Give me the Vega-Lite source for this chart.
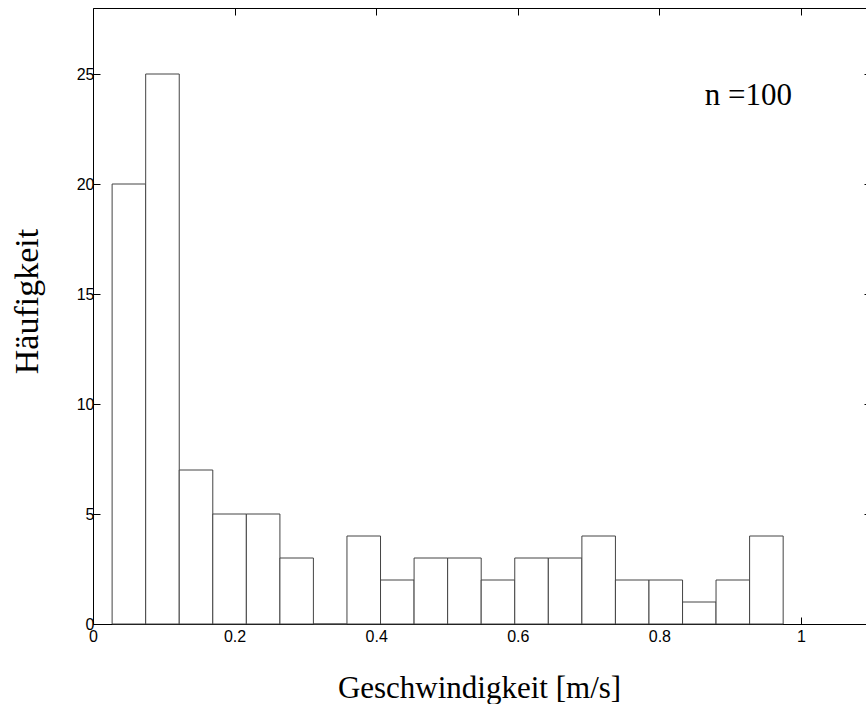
{
  "$schema": "https://vega.github.io/schema/vega-lite/v6.json",
  "width": 773,
  "height": 616,
  "autosize": {"type": "none"},
  "padding": {"left": 93, "top": 8, "right": 0, "bottom": 80},
  "background": "white",
  "datasets": {
    "bins": [
      {"x0": 0.0270, "x1": 0.0744, "count": 20},
      {"x0": 0.0744, "x1": 0.1218, "count": 25},
      {"x0": 0.1218, "x1": 0.1692, "count": 7},
      {"x0": 0.1692, "x1": 0.2166, "count": 5},
      {"x0": 0.2166, "x1": 0.2640, "count": 5},
      {"x0": 0.2640, "x1": 0.3113, "count": 3},
      {"x0": 0.3113, "x1": 0.3587, "count": 0},
      {"x0": 0.3587, "x1": 0.4061, "count": 4},
      {"x0": 0.4061, "x1": 0.4535, "count": 2},
      {"x0": 0.4535, "x1": 0.5009, "count": 3},
      {"x0": 0.5009, "x1": 0.5483, "count": 3},
      {"x0": 0.5483, "x1": 0.5957, "count": 2},
      {"x0": 0.5957, "x1": 0.6431, "count": 3},
      {"x0": 0.6431, "x1": 0.6905, "count": 3},
      {"x0": 0.6905, "x1": 0.7379, "count": 4},
      {"x0": 0.7379, "x1": 0.7853, "count": 2},
      {"x0": 0.7853, "x1": 0.8327, "count": 2},
      {"x0": 0.8327, "x1": 0.8800, "count": 1},
      {"x0": 0.8800, "x1": 0.9274, "count": 2},
      {"x0": 0.9274, "x1": 0.9748, "count": 4}
    ],
    "note": [
      {"label": "n =100", "x": 0.864, "y": 23.6}
    ]
  },
  "config": {
    "view": {"stroke": null},
    "axis": {
      "grid": false,
      "domainColor": "black",
      "domainWidth": 1,
      "tickColor": "black",
      "tickWidth": 1,
      "labelColor": "black",
      "labelFont": "Liberation Sans",
      "labelFontSize": 16,
      "titleColor": "black",
      "titleFont": "Liberation Serif",
      "titleFontWeight": "normal"
    }
  },
  "layer": [
    {
      "data": {"name": "bins"},
      "mark": {"type": "rect", "fill": "white", "stroke": "#444444", "strokeWidth": 1},
      "encoding": {
        "x": {
          "field": "x0",
          "type": "quantitative",
          "scale": {"domain": [0, 1.0918], "nice": false, "zero": false},
          "axis": {
            "orient": "bottom",
            "values": [0, 0.2, 0.4, 0.6, 0.8, 1],
            "format": "~g",
            "tickSize": -7,
            "labelFontSize": 16,
            "labelPadding": 11,
            "labelFlush": false,
            "title": "Geschwindigkeit [m/s]",
            "titleFontSize": 31,
            "titleX": 386,
            "titleY": 73,
            "titleBaseline": "alphabetic",
            "titleAnchor": "middle",
            "titleAlign": "center"
          }
        },
        "x2": {"field": "x1"},
        "y": {
          "field": "count",
          "type": "quantitative",
          "scale": {"domain": [0, 28], "nice": false},
          "axis": {
            "orient": "left",
            "values": [0, 5, 10, 15, 20, 25],
            "tickSize": -7,
            "labelFontSize": 16,
            "labelPadding": 6,
            "labelFlush": false,
            "title": "Häufigkeit",
            "titleFontSize": 34,
            "titleAngle": -90,
            "titleX": -56,
            "titleY": 293,
            "titleBaseline": "alphabetic",
            "titleAlign": "center"
          }
        },
        "y2": {"datum": 0}
      }
    },
    {
      "data": {"name": "note"},
      "mark": {"type": "text", "font": "Liberation Serif", "fontSize": 31, "align": "left", "baseline": "alphabetic", "color": "black"},
      "encoding": {
        "x": {
          "field": "x",
          "type": "quantitative",
          "axis": {
            "orient": "top",
            "values": [0, 0.2, 0.4, 0.6, 0.8, 1],
            "labels": false,
            "tickSize": -7,
            "title": null
          }
        },
        "y": {
          "field": "y",
          "type": "quantitative",
          "axis": {
            "orient": "right",
            "values": [0, 5, 10, 15, 20, 25],
            "labels": false,
            "domain": false,
            "tickSize": -7,
            "offset": 5,
            "title": null
          }
        },
        "text": {"field": "label"}
      }
    }
  ]
}
